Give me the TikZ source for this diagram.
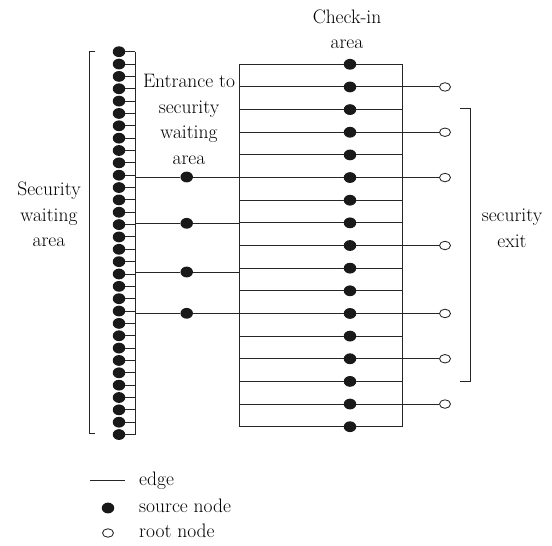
\documentclass[tikz,border=0pt]{standalone}
\usetikzlibrary{shapes.geometric}
\begin{document}
\begin{tikzpicture}[x=1pt,y=-1pt,
  edge/.style={line width=0.95pt, draw=black!85},
  brk/.style={line width=0.85pt, draw=black!85},
  src/.style={ellipse, fill=black!90, inner sep=0pt, minimum width=12.5pt, minimum height=10.8pt},
  rootn/.style={ellipse, draw=black!85, fill=white, line width=0.85pt, inner sep=0pt, minimum width=11pt, minimum height=8.5pt},
  lbl/.style={font=\fontsize{19.5}{25.5}\selectfont, inner sep=0pt, align=center, text=black}
]
\useasboundingbox (0,0) rectangle (552,546);

% security waiting area comb
\foreach \i in {0,...,31}{
  \node[src] (L\i) at (119,{51.7+12.35*\i}) {};
  \coordinate (C\i) at (135,{51.7+12.35*\i});
  \draw[edge] (L\i) -- (C\i);
}
\draw[edge] (C0) -- (C31);

% check-in box
\coordinate (A0) at (239.3,64.3);
\coordinate (B16) at (402.7,{64.3+22.65*16});
\draw[edge] (A0) rectangle (B16);
\foreach \j in {0,...,16}{
  \coordinate (A\j) at (239.3,{64.3+22.65*\j});
  \coordinate (B\j) at (402.7,{64.3+22.65*\j});
}
\foreach \j in {1,...,15}{
  \draw[edge] (A\j) -- (B\j);
}
\foreach \j in {0,...,16}{
  \node[src] (K\j) at (350,{64.3+22.65*\j}) {};
}

% entrance to security waiting area
\foreach \k/\y in {1/177,2/223.3,3/272,4/313.3}{
  \coordinate (EL\k) at (135,\y);
  \coordinate (ER\k) at (239.3,\y);
  \node[src] (E\k) at (186.7,\y) {};
  \draw[edge] (EL\k) -- (E\k) -- (ER\k);
}

% security exits
\foreach \j in {1,3,5,8,11,13,15}{
  \node[rootn] (T\j) at (445,{64.3+22.65*\j}) {};
  \draw[edge] (B\j) -- (T\j);
}

% brackets
\draw[brk] (95,51.7) -| (89.3,433.3) -- (95,433.3);
\draw[brk] (460,108.3) -| (470.7,381.7) -- (460,381.7);

% labels
\node[lbl] (entr) at (189,119.6) {Entrance to\\security\\waiting\\area};
\node[lbl] (swa) at (49,214.4) {Security\\waiting\\area};
\node[lbl] (chk) at (347,29.4) {Check-in\\area};
\node[lbl] (sex) at (512,228.5) {security\\exit};

% legend
\coordinate (lg1) at (90,480.7);
\coordinate (lg2) at (125,480.7);
\draw[edge] (lg1) -- (lg2);
\node[src] (lgs) at (108,508) {};
\node[rootn] (lgr) at (108,533) {};
\node[lbl, anchor=base west] (t1) at (139,485.7) {edge};
\node[lbl, anchor=base west] (t2) at (139,512.2) {source node};
\node[lbl, anchor=base west] (t3) at (139,537.2) {root node};
\end{tikzpicture}
\end{document}
